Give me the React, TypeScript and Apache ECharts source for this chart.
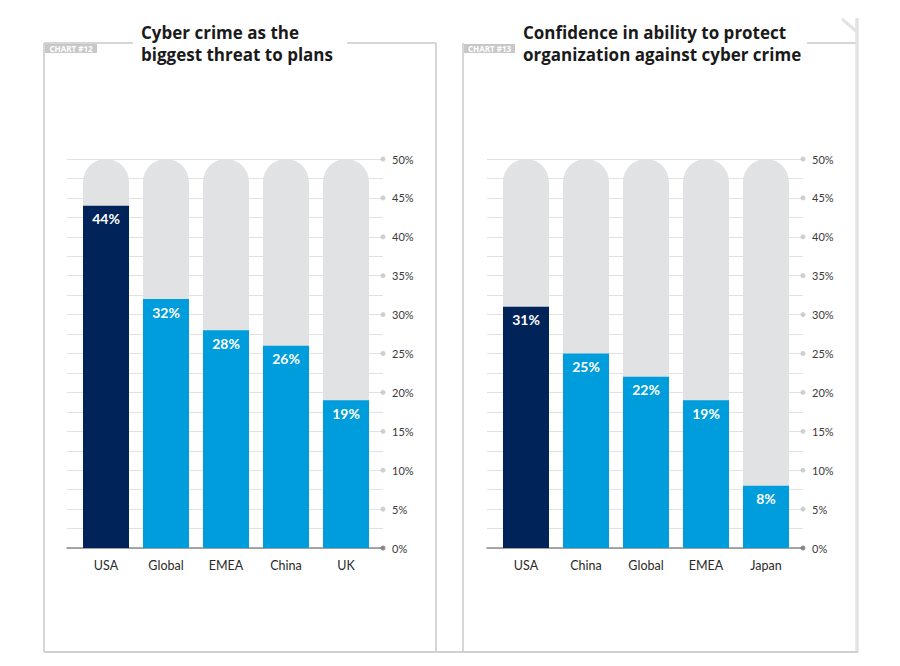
import React, { useEffect, useRef } from "react";
import * as echarts from "echarts";

const leftCategories = ["USA", "Global", "EMEA", "China", "UK"];
const leftValues = [44, 32, 28, 26, 19];
const rightCategories = ["USA", "China", "Global", "EMEA", "Japan"];
const rightValues = [31, 25, 22, 19, 8];
const yTicks = [0, 5, 10, 15, 20, 25, 30, 35, 40, 45, 50];
const leftTitle = ["Cyber crime as the", "biggest threat to plans"];
const rightTitle = ["Confidence in ability to protect", "organization against cyber crime"];
const leftTag = "CHART #12";
const rightTag = "CHART #13";

const NAVY = "#00245a";
const BLUE = "#009ddc";
const FONT = "Lato, 'Open Sans', sans-serif";
const TITLE_FONT = "'Open Sans', Lato, sans-serif";

export default function App() {
  const ref = useRef<HTMLDivElement>(null);
  useEffect(() => {
    if (!ref.current) return;
    const chart = echarts.init(ref.current, null, { renderer: "svg" });
    const offsets = [0, 420];
    const grids: any[] = [];
    const xAxes: any[] = [];
    const yAxes: any[] = [];
    const series: any[] = [];
    const panels = [
      { cats: leftCategories, vals: leftValues },
      { cats: rightCategories, vals: rightValues },
    ];
    panels.forEach((p, i) => {
      const dx = offsets[i];
      const gBars = grids.length;
      grids.push({ left: 76 + dx, width: 300, top: 159, height: 389 });
      const gLines = grids.length;
      grids.push({ left: 67 + dx, width: 316, top: 159, height: 389 });
      xAxes.push({
        type: "category",
        gridIndex: gBars,
        data: p.cats,
        axisLine: { show: false },
        axisTick: { show: false },
        axisLabel: { color: "#2a2a2a", fontSize: 12.5, margin: 11, fontFamily: FONT },
      });
      yAxes.push({
        type: "value",
        gridIndex: gBars,
        min: 0,
        max: 50,
        show: false,
      });
      xAxes.push({
        type: "value",
        gridIndex: gLines,
        min: 0,
        max: 1,
        axisLine: { show: true, onZero: false, lineStyle: { color: "#8a8a8a", width: 1.5 } },
        axisTick: { show: false },
        axisLabel: { show: false },
        splitLine: { show: false },
      });
      yAxes.push({
        type: "value",
        gridIndex: gLines,
        position: "right",
        min: 0,
        max: 50,
        interval: 2.5,
        axisLine: { show: false },
        axisTick: { show: false },
        splitLine: { show: true, lineStyle: { color: "#e2e2e2", width: 1 } },
        axisLabel: {
          color: "#3a3a3a",
          fontSize: 11,
          margin: 9,
          fontFamily: FONT,
          formatter: (v: number) => (v % 5 === 0 ? v + "%" : ""),
        },
      });
      series.push({
        type: "scatter",
        xAxisIndex: xAxes.length - 1,
        yAxisIndex: yAxes.length - 1,
        symbolSize: 5,
        silent: true,
        data: yTicks.map((t) => ({
          value: [1, t],
          itemStyle: { color: t === 0 ? "#777" : "#c4c4c4" },
        })),
        z: 3,
      });
      series.push({
        type: "bar",
        xAxisIndex: xAxes.length - 2,
        yAxisIndex: yAxes.length - 2,
        barWidth: 46,
        showBackground: true,
        backgroundStyle: { color: "#e1e2e4", borderRadius: [23, 23, 0, 0] },
        data: p.vals.map((v, k) => ({
          value: v,
          itemStyle: { color: k === 0 ? NAVY : BLUE },
        })),
        label: {
          show: true,
          position: "insideTop",
          distance: 6,
          color: "#fff",
          fontSize: 14,
          fontWeight: "bold",
          fontFamily: FONT,
          formatter: "{c}%",
        },
        z: 2,
      });
    });

    const frame = "#c9c9c9";
    const graphic: any[] = [
      { type: "line", shape: { x1: 44, y1: 43, x2: 44, y2: 652 }, style: { stroke: frame, lineWidth: 1.5 } },
      { type: "line", shape: { x1: 44, y1: 43, x2: 133, y2: 43 }, style: { stroke: frame, lineWidth: 1.5 } },
      { type: "line", shape: { x1: 347, y1: 43, x2: 436, y2: 43 }, style: { stroke: frame, lineWidth: 1.5 } },
      { type: "line", shape: { x1: 436, y1: 43, x2: 436, y2: 652 }, style: { stroke: frame, lineWidth: 1.5 } },
      { type: "line", shape: { x1: 463, y1: 43, x2: 463, y2: 652 }, style: { stroke: frame, lineWidth: 1.5 } },
      { type: "line", shape: { x1: 807, y1: 43, x2: 856, y2: 43 }, style: { stroke: frame, lineWidth: 1.5 } },
      { type: "line", shape: { x1: 857, y1: 18, x2: 857, y2: 653 }, style: { stroke: "#e3e3e3", lineWidth: 3.5 } },
      { type: "line", shape: { x1: 842, y1: 19, x2: 857, y2: 32 }, style: { stroke: "#e3e3e3", lineWidth: 3 } },
      { type: "line", shape: { x1: 44, y1: 652, x2: 858, y2: 652 }, style: { stroke: "#d0d0d0", lineWidth: 2 } },
      { type: "rect", shape: { x: 45, y: 44, width: 52, height: 9 }, style: { fill: "#c8c8c8" } },
      { type: "text", x: 71, y: 48.5, style: { text: leftTag, fill: "#fff", font: "bold 8px " + TITLE_FONT, align: "center", verticalAlign: "middle" } },
      { type: "rect", shape: { x: 464, y: 44, width: 51, height: 9 }, style: { fill: "#c8c8c8" } },
      { type: "text", x: 489.5, y: 48.5, style: { text: rightTag, fill: "#fff", font: "bold 8px " + TITLE_FONT, align: "center", verticalAlign: "middle" } },
    ];
    const titles = [
      { lines: leftTitle, x: 141 },
      { lines: rightTitle, x: 523 },
    ];
    titles.forEach((t) => {
      t.lines.forEach((line, k) => {
        graphic.push({
          type: "text",
          x: t.x,
          y: 32 + k * 22,
          style: {
            text: line,
            fill: "#1a1a1a",
            font: "bold 17px " + TITLE_FONT,
            align: "left",
            verticalAlign: "middle",
          },
        });
      });
    });

    chart.setOption({
      animation: false,
      backgroundColor: "#fff",
      grid: grids,
      xAxis: xAxes,
      yAxis: yAxes,
      series,
      graphic,
    });
    return () => chart.dispose();
  }, []);
  return (
    <div
      ref={ref}
      style={{ position: "fixed", left: 0, top: 0, width: 900, height: 666 }}
    />
  );
}
